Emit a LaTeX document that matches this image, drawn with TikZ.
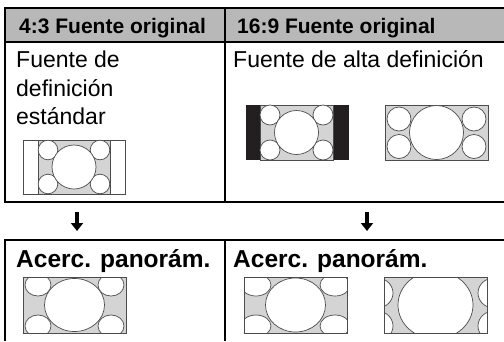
\documentclass[tikz,border=0pt]{standalone}
\usepackage{fontspec}
\setmainfont{Liberation Sans}
\usetikzlibrary{arrows.meta}
\definecolor{headgray}{gray}{0.72}
\definecolor{scrgray}{gray}{0.83}
\definecolor{bargray}{HTML}{231F20}
\tikzset{
  tbl/.style={line width=2.4pt},
  scr/.style={draw=black!70, line width=0.7pt},
  dot/.style={scr, fill=white},
  headtxt/.style={anchor=base west, inner sep=0pt, font=\bfseries\fontsize{21}{25}\selectfont},
  bodytxt/.style={anchor=base west, inner sep=0pt, font=\fontsize{23}{28}\selectfont},
  modetxt/.style={anchor=base west, inner sep=0pt, font=\bfseries\fontsize{24.5}{29}\selectfont},
  down/.style={line width=3.6pt, -{Triangle[width=12pt,length=8pt]}}
}
\begin{document}
\begin{tikzpicture}[x=1pt, y=-1pt]
\useasboundingbox (0,0) rectangle (504,341);

% top table
\fill[headgray] (5,8) rectangle (504,42);
\draw[tbl] (504,8) -- (5,8) -- (5,202) -- (504,202);
\draw[tbl] (5,42) -- (504,42);
\draw[tbl] (225,8) -- (225,202);

\node[headtxt] (h43) at (19,33) {4:3 Fuente original};
\node[headtxt] (h169) at (237,33) {16:9 Fuente original};

\node[bodytxt] (sd1) at (16,67) {Fuente de};
\node[bodytxt] (sd2) at (16,96) {definición};
\node[bodytxt] (sd3) at (16,124) {estándar};
\node[bodytxt] (hd) at (233,67) {Fuente de alta definición};

% SD source
\draw[scr, fill=white] (23,140) rectangle (125,194);
\filldraw[scr, fill=scrgray] (38,140) rectangle (110,194);
\foreach \x/\y in {48/150, 100/150, 48/184, 100/184}
  \filldraw[dot] (\x,\y) circle (9.8);
\filldraw[dot] (74,167) circle (22);

% HD source, 4:3 with bars
\fill[bargray] (246,105) rectangle (349,160);
\filldraw[scr, fill=scrgray] (260,105) rectangle (333,160);
\foreach \x/\y in {270/115, 323/115, 270/150, 323/150}
  \filldraw[dot] (\x,\y) circle (10);
\filldraw[dot] (296.5,132.5) circle (22);

% HD source, full
\filldraw[scr, fill=scrgray] (385,105) rectangle (488,160);
\foreach \x/\y in {399/119, 474/119, 399/146.5, 474/146.5}
  \filldraw[dot] (\x,\y) circle (12);
\filldraw[dot] (436.5,132.5) circle (27);

% arrows
\coordinate (aL1) at (77,212);
\coordinate (aL2) at (77,231);
\coordinate (aR1) at (367,212);
\coordinate (aR2) at (367,231);
\draw[down] (aL1) -- (aL2);
\draw[down] (aR1) -- (aR2);

% bottom table
\draw[tbl] (5,341) -- (5,240) -- (504,240);
\draw[tbl] (225,240) -- (225,341);

\node[modetxt] (pL) at (16,267) {Acerc. panorám.};
\node[modetxt] (pR) at (233,267) {Acerc. panorám.};

% panoramic zoom, SD
\begin{scope}
  \clip (23,277) rectangle (126,333);
  \fill[scrgray] (23,277) rectangle (126,333);
  \foreach \x/\y in {38/285, 111/285, 38/326, 111/326}
    \filldraw[dot] (\x,\y) ellipse (13 and 11);
  \filldraw[dot] (74.5,305) ellipse (30 and 26.5);
\end{scope}
\draw[scr] (23,277) rectangle (126,333);

% panoramic zoom, HD 4:3
\begin{scope}
  \clip (244,277) rectangle (347,333);
  \fill[scrgray] (244,277) rectangle (347,333);
  \foreach \x/\y in {256/285, 335/285, 256/326, 335/326}
    \filldraw[dot] (\x,\y) ellipse (15 and 11);
  \filldraw[dot] (295.5,305) ellipse (30 and 27);
\end{scope}
\draw[scr] (244,277) rectangle (347,333);

% panoramic zoom, HD full
\begin{scope}
  \clip (384,277) rectangle (487,333);
  \fill[scrgray] (384,277) rectangle (487,333);
  \foreach \x/\y in {377/293, 494/293, 377/326, 494/326}
    \filldraw[dot] (\x,\y) ellipse (16 and 15);
  \filldraw[dot] (435.5,305) ellipse (37.5 and 34);
\end{scope}
\draw[scr] (384,277) rectangle (487,333);

\end{tikzpicture}
\end{document}
